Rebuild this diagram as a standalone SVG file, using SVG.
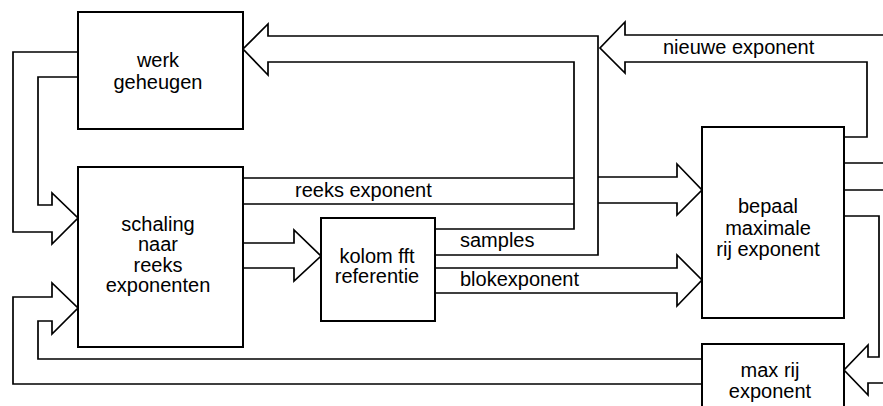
<svg xmlns="http://www.w3.org/2000/svg" width="883" height="406" viewBox="0 0 883 406">
<style>
.box{fill:#fff;stroke:#000;stroke-width:2}
.ln{fill:none;stroke:#000;stroke-width:1.7;stroke-linejoin:miter}
text{font-family:"Liberation Sans",Arial,sans-serif;font-size:20px;fill:#000}
.c{text-anchor:middle}
</style>
<rect width="883" height="406" fill="#fff"/>
<g id="connectors">
<path class="ln" d="M435,255 H598 V36 H268 V24 L243,49 L268,75 V62 H574 V229 H435"/>
<path class="ln" d="M844,137 H867 V62 H625 V73 L600,48 L625,22 V35 H883"/>
<path class="ln" d="M243,178 H574 M243,204 H574"/>
<path class="ln" d="M598,177 H677 V164 L702,190 L677,215 V203 H598"/>
<path class="ln" d="M243,243 H294 V230 L321,256 L294,281 V268 H243"/>
<path class="ln" d="M435,268 H677 V255 L702,280 L677,306 V293 H435"/>
<path class="ln" d="M78,52 H13 V232 H52 V244 L78,218 L52,193 V205 H38 V77 H78"/>
<path class="ln" d="M702,384 H13 V297 H52 V283 L78,308 L52,334 V321 H38 V359 H702"/>
<path class="ln" d="M844,216 H879 V357 H868 V345 L844,370 L868,395 V383 H883"/>
<path class="ln" d="M844,163 H883 M844,190 H883"/>
<text x="295" y="197">reeks exponent</text>
<text x="460" y="247">samples</text>
<text x="460" y="286">blokexponent</text>
<text x="663" y="54">nieuwe exponent</text>
</g>
<g id="werk">
<rect class="box" x="78" y="12" width="165" height="117"/>
<text class="c" x="158" y="67">werk</text>
<text class="c" x="158" y="89">geheugen</text>
</g>
<g id="schaling">
<rect class="box" x="78" y="167" width="165" height="180"/>
<text class="c" x="158" y="231">schaling</text>
<text class="c" x="158" y="251">naar</text>
<text class="c" x="158" y="272">reeks</text>
<text class="c" x="158" y="292">exponenten</text>
</g>
<g id="kolom">
<rect class="box" x="321" y="218" width="114" height="103"/>
<text class="c" x="377" y="263">kolom fft</text>
<text class="c" x="377" y="283">referentie</text>
</g>
<g id="bepaal">
<rect class="box" x="702" y="127" width="142" height="191"/>
<text class="c" x="768" y="213">bepaal</text>
<text class="c" x="768" y="235">maximale</text>
<text class="c" x="768" y="256">rij exponent</text>
</g>
<g id="maxrij">
<path class="box" d="M702,410 V344 H844 V410"/>
<text class="c" x="770" y="377">max rij</text>
<text class="c" x="770" y="398">exponent</text>
</g>
</svg>
